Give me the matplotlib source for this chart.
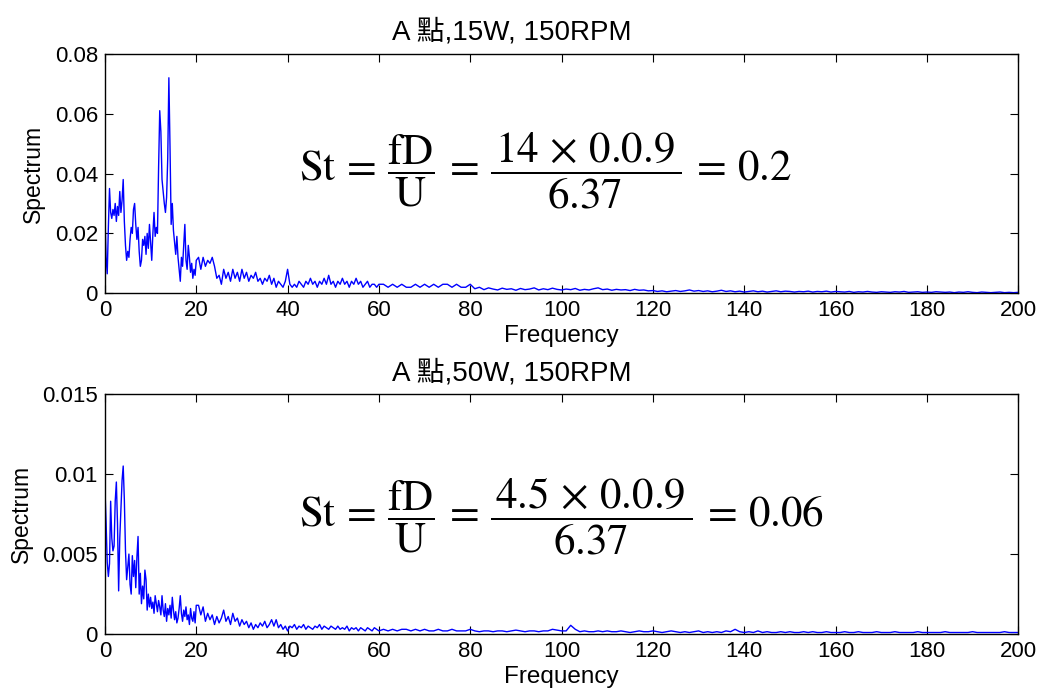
import numpy as np
import matplotlib
matplotlib.use("Agg")
from matplotlib import pyplot as plt

plt.rcParams['font.family'] = ['Liberation Sans', 'Noto Sans CJK TC', 'DejaVu Sans']
plt.rcParams['mathtext.fontset'] = 'stix'

# frequency grid (Hz): fine near the peaks, coarser in the tail
freq = np.concatenate([np.arange(0, 20.01, 0.25),
                       np.arange(20.5, 60.01, 0.5),
                       np.arange(61, 201, 1.0)])

# 15W spectrum
spec15_low = [0.026, 0.012, 0.0065, 0.022, 0.035, 0.027, 0.025, 0.028, 0.026, 0.030,
              0.024, 0.029, 0.026, 0.034, 0.027, 0.031, 0.038, 0.024, 0.016, 0.011,
              0.014, 0.012, 0.018, 0.022, 0.020, 0.028, 0.030, 0.023, 0.018, 0.022,
              0.014, 0.009, 0.011, 0.018, 0.016, 0.019, 0.013, 0.020, 0.015, 0.023,
              0.017, 0.011, 0.020, 0.027, 0.019, 0.022, 0.020, 0.042, 0.061, 0.054,
              0.038, 0.034, 0.030, 0.027, 0.032, 0.045, 0.072, 0.049, 0.023, 0.030,
              0.021, 0.017, 0.013, 0.019, 0.012, 0.008, 0.004, 0.012, 0.009, 0.016,
              0.023, 0.011, 0.008, 0.016, 0.012, 0.007, 0.010, 0.005, 0.008, 0.006,
              0.011]
spec15_mid = [0.012, 0.008, 0.012, 0.009, 0.011, 0.010, 0.012, 0.009, 0.005, 0.006,
              0.003, 0.008, 0.005, 0.007, 0.004, 0.008, 0.005, 0.007, 0.004, 0.008,
              0.005, 0.007, 0.004, 0.006, 0.005, 0.007, 0.004, 0.005, 0.003, 0.005,
              0.004, 0.006, 0.003, 0.005, 0.002, 0.004, 0.003, 0.002, 0.004, 0.008,
              0.003, 0.002, 0.003, 0.002, 0.004, 0.003, 0.002, 0.004, 0.003, 0.005,
              0.003, 0.004, 0.002, 0.004, 0.003, 0.005, 0.003, 0.006, 0.003, 0.004,
              0.002, 0.004, 0.003, 0.005, 0.003, 0.004, 0.002, 0.004, 0.003, 0.005,
              0.003, 0.004, 0.002, 0.003, 0.004, 0.002, 0.003, 0.003, 0.002, 0.003]
spec15_high = [0.003, 0.002, 0.003, 0.002, 0.003, 0.002, 0.002, 0.003, 0.002, 0.003,
               0.002, 0.003, 0.002, 0.003, 0.003, 0.002, 0.003, 0.002, 0.002, 0.003,
               0.0015, 0.002, 0.0012, 0.0018, 0.0014, 0.0011, 0.0017, 0.0013, 0.0015, 0.001,
               0.0016, 0.0012, 0.0014, 0.0018, 0.0011, 0.0015, 0.0012, 0.0017, 0.0013, 0.0011,
               0.0014, 0.0012, 0.0016, 0.001, 0.0013, 0.0011, 0.0015, 0.0018, 0.0012, 0.0014,
               0.001, 0.0013, 0.0011, 0.0012, 0.0009, 0.0013, 0.001, 0.0011, 0.0008, 0.0009,
               0.0006, 0.0008, 0.0005, 0.0007, 0.0009, 0.0006, 0.0008, 0.0011, 0.0007, 0.0009,
               0.0006, 0.0008, 0.0005, 0.0007, 0.001, 0.0006, 0.0008, 0.0005, 0.0007, 0.0004,
               0.0006, 0.0008, 0.0005, 0.0007, 0.0004, 0.0006, 0.0008, 0.0005, 0.0007, 0.0006,
               0.0004, 0.0006, 0.0005, 0.0007, 0.0004, 0.0006, 0.0005, 0.0007, 0.0004, 0.0006,
               0.0005, 0.0004, 0.0006, 0.0003, 0.0005, 0.0004, 0.0006, 0.0004, 0.0003, 0.0005,
               0.0004, 0.0003, 0.0005, 0.0004, 0.0006, 0.0003, 0.0004, 0.0005, 0.0003, 0.0004,
               0.0003, 0.0005, 0.0004, 0.0003, 0.0004, 0.0002, 0.0004, 0.0003, 0.0005, 0.0003,
               0.0002, 0.0004, 0.0003, 0.0002, 0.0003, 0.0004, 0.0002, 0.0003, 0.0002, 0.0003]

# 50W spectrum
spec50_low = [0.0091, 0.0070, 0.0045, 0.0036, 0.0044, 0.0083, 0.0060, 0.0052, 0.0055, 0.0083,
              0.0095, 0.0069, 0.0027, 0.0060, 0.0078, 0.0096, 0.0105, 0.0084, 0.0052, 0.0034,
              0.0042, 0.0050, 0.0031, 0.0025, 0.0049, 0.0036, 0.0046, 0.0029, 0.0048, 0.0061,
              0.0025, 0.0038, 0.0019, 0.0030, 0.0022, 0.0040, 0.0034, 0.0015, 0.0025, 0.0017,
              0.0023, 0.0016, 0.0020, 0.0013, 0.0024, 0.0019, 0.0014, 0.0021, 0.0017, 0.0012,
              0.0024, 0.0015, 0.0011, 0.0019, 0.0008, 0.0016, 0.0012, 0.0018, 0.0010, 0.0023,
              0.0015, 0.0009, 0.0014, 0.0007, 0.0010, 0.0016, 0.0024, 0.0013, 0.0008, 0.0015,
              0.0011, 0.0017, 0.0009, 0.0012, 0.0006, 0.0016, 0.0010, 0.0008, 0.0014, 0.0007,
              0.0018]
spec50_mid = [0.0018, 0.0012, 0.0017, 0.0008, 0.0013, 0.0009, 0.0012, 0.0006, 0.0011, 0.0007,
              0.0010, 0.0015, 0.0008, 0.0011, 0.0006, 0.0013, 0.0008, 0.0010, 0.0005, 0.0009,
              0.0006, 0.0008, 0.0004, 0.0007, 0.0003, 0.0006, 0.0004, 0.0007, 0.0005, 0.0008,
              0.0004, 0.0006, 0.0009, 0.0005, 0.0009, 0.0004, 0.0006, 0.0003, 0.0005, 0.0002,
              0.0005, 0.0004, 0.0006, 0.0003, 0.0005, 0.0004, 0.0006, 0.0003, 0.0005, 0.0004,
              0.0003, 0.0005, 0.0004, 0.0006, 0.0003, 0.0005, 0.0004, 0.0003, 0.0005, 0.0004,
              0.0003, 0.0005, 0.0003, 0.0004, 0.0003, 0.0005, 0.0002, 0.0004, 0.0003, 0.0004,
              0.0002, 0.0004, 0.0003, 0.0002, 0.0004, 0.0003, 0.0002, 0.0004, 0.0003, 0.0002]
spec50_high = [0.0003, 0.0002, 0.0003, 0.0002, 0.0003, 0.0003, 0.0002, 0.0003, 0.0002, 0.0003,
               0.0002, 0.0002, 0.0003, 0.0002, 0.0002, 0.0003, 0.0002, 0.0002, 0.0002, 0.0003,
               0.0002, 0.00015, 0.0002, 0.0002, 0.00015, 0.0002, 0.0002, 0.00015, 0.0002, 0.00025,
               0.0002, 0.00015, 0.0002, 0.0002, 0.00015, 0.0002, 0.0002, 0.0003, 0.00025, 0.0002,
               0.0002, 0.00055, 0.0003, 0.00015, 0.0002, 0.00015, 0.00015, 0.0002, 0.00015, 0.0002,
               0.00015, 0.00015, 0.0002, 0.00015, 0.0001, 0.00015, 0.0002, 0.00015, 0.00015, 0.0002,
               0.00015, 0.0001, 0.00015, 0.0002, 0.00015, 0.0001, 0.00015, 0.0001, 0.00015, 0.0002,
               0.0001, 0.00015, 0.0001, 0.00015, 0.0001, 0.0002, 0.00015, 0.0003, 0.00015, 0.0001,
               0.00015, 0.0001, 0.0002, 0.0001, 0.00015, 0.0001, 0.0001, 0.00015, 0.0001, 0.00015,
               0.0001, 0.0001, 0.00015, 0.0001, 0.00015, 0.0001, 0.0001, 0.00015, 0.0001, 0.0001,
               0.0001, 0.00015, 0.0001, 0.0001, 0.00015, 0.0001, 0.0001, 0.0001, 0.00015, 0.0001,
               0.0001, 0.0001, 0.00015, 0.0001, 0.0001, 0.0001, 0.0001, 0.00015, 0.0001, 0.0001,
               0.0001, 0.0001, 0.0001, 0.00015, 0.0001, 0.0001, 0.0001, 0.0001, 0.0001, 0.00015,
               0.0001, 0.0001, 0.0001, 0.0001, 0.0001, 0.0001, 0.00015, 0.0001, 0.0001, 0.0001]

spec15 = np.array(spec15_low + spec15_mid + spec15_high)
spec50 = np.array(spec50_low + spec50_mid + spec50_high)

titles = ["A 點,15W, 150RPM", "A 點,50W, 150RPM"]
eqs = [r"$\mathrm{St}\,=\,\dfrac{\mathrm{fD}}{\mathrm{U}}\,=\,\dfrac{\,14\,\times\,0.0.9\,}{6.37}\,=\,0.2$",
       r"$\mathrm{St}\,=\,\dfrac{\mathrm{fD}}{\mathrm{U}}\,=\,\dfrac{\,4.5\,\times\,0.0.9\,}{6.37}\,=\,0.06$"]
yticks = [[0, 0.02, 0.04, 0.06, 0.08], [0, 0.005, 0.01, 0.015]]
ylabels = [["0", "0.02", "0.04", "0.06", "0.08"], ["0", "0.005", "0.01", "0.015"]]
xticks = list(range(0, 201, 20))

fig = plt.figure(figsize=(10.39, 6.9), dpi=100)
ax1 = fig.add_axes([0.101, 0.575, 0.879, 0.347])
ax2 = fig.add_axes([0.101, 0.081, 0.879, 0.348])

for ax, y, t, eq, yt, yl, eqy in zip([ax1, ax2], [spec15, spec50], titles, eqs,
                                      yticks, ylabels, [0.51, 0.49]):
    ax.plot(freq, y, color="#0000ff", lw=1.0)
    ax.set_xlim(0, 200)
    ax.set_ylim(yt[0], yt[-1])
    ax.set_xticks(xticks)
    ax.set_yticks(yt)
    ax.set_yticklabels(yl)
    ax.tick_params(direction="in", top=True, right=True, length=6, width=0.8,
                   labelsize=16, pad=5)
    for s in ax.spines.values():
        s.set_linewidth(1.0)
    ax.set_xlabel("Frequency", fontsize=17.5, labelpad=3)
    ax.set_ylabel("Spectrum", fontsize=16.5, labelpad=7)
    ax.set_title(t, fontsize=20, pad=10, x=0.445)
    ax.text(0.212, eqy, eq, transform=ax.transAxes, fontsize=31,
            ha="left", va="center")

fig.savefig("out.png", dpi=100)
